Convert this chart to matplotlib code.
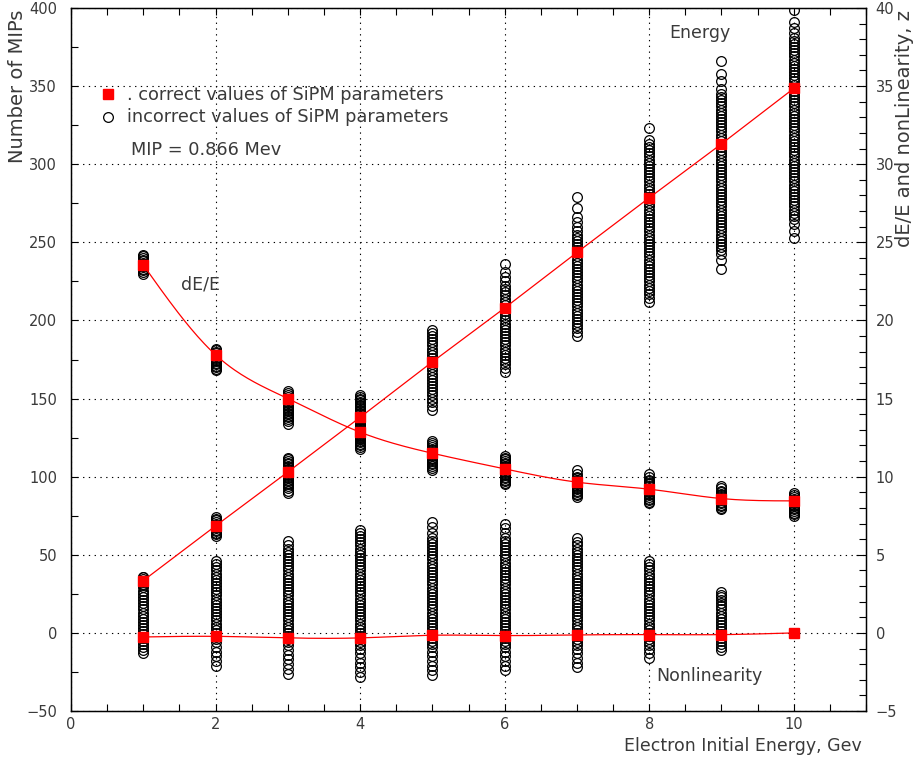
import numpy as np
import matplotlib
matplotlib.use("Agg")
import matplotlib.pyplot as plt
from matplotlib.ticker import MultipleLocator

# electron energies, GeV
energies = [1, 2, 3, 4, 5, 6, 7, 8, 9, 10]

# correct SiPM parameters (red squares)
energy_ok = [33.5, 68.5, 103, 138, 173.5, 208, 243.5, 278.5, 313, 348.5]   # MIPs
dee_ok = [23.55, 17.8, 15.0, 12.85, 11.5, 10.5, 9.65, 9.2, 8.6, 8.45]       # dE/E, %
nonlin_ok = [-0.26, -0.22, -0.32, -0.32, -0.15, -0.17, -0.13, -0.11, -0.11, 0.0]  # z, %

# incorrect SiPM parameters (open circles), one list per energy
energy_bad = [
    [29.5, 30.5, 31.5, 32.5, 33.5, 34.5, 35.5, 36],
    [62, 63, 64, 65, 66, 67, 68, 69, 70, 71, 72, 73, 74],
    [89.5, 91, 92.5, 94, 95, 96, 97, 98, 99, 100, 101, 102, 103, 104, 105, 106, 107, 108, 109,
     110, 111, 112],
    [124, 125.5, 127, 128, 129, 130, 131, 132, 133, 134, 135, 136, 137, 138, 139, 140, 141, 142,
     143, 144, 145, 146, 147, 148, 149, 150, 151, 152],
    [143, 145.5, 148, 150, 152, 154, 156, 158, 160, 162, 164, 166, 168, 170, 172, 174, 176, 178,
     180, 182, 184, 186, 188, 190, 192, 194],
    [167, 169.5, 172, 174, 176, 178, 180, 182, 184, 186, 188, 190, 192, 194, 196, 198, 200, 202,
     204, 206, 208, 210, 212, 214, 216, 218, 220, 222, 225, 228, 231, 236],
    [190, 192.5, 195, 197, 199, 201, 203, 205, 207, 209, 211, 213, 215, 217, 219, 221, 223, 225,
     227, 229, 231, 233, 235, 237, 239, 241, 243, 245, 247, 249, 251, 253, 255, 257, 260, 263,
     266, 272, 279],
    [212, 214.5, 217, 219, 221, 223, 225, 227, 229, 231, 233, 235, 237, 239, 241, 243, 245, 247,
     249, 251, 253, 255, 257, 259, 261, 263, 265, 267, 269, 271, 273, 275, 277, 279, 281, 283,
     285, 287, 289, 291, 293, 295, 297, 299, 301, 303, 305, 307, 309, 311, 313, 315.5, 323],
    [233, 238.5, 242.5, 245, 247, 249, 251, 253, 255, 257, 259, 261, 263, 265, 267, 269, 271, 273,
     275, 277, 279, 281, 283, 285, 287, 289, 291, 293, 295, 297, 299, 301, 303, 305, 307, 309,
     311, 313, 315, 317, 319, 321, 323, 325, 327, 329, 331, 333, 335, 337, 339, 341, 343, 345,
     348, 353, 358, 366],
    [253, 257.5, 262, 265, 267, 269, 271, 273, 275, 277, 279, 281, 283, 285, 287, 289, 291, 293,
     295, 297, 299, 301, 303, 305, 307, 309, 311, 313, 315, 317, 319, 321, 323, 325, 327, 329,
     331, 333, 335, 337, 339, 341, 343, 345, 347, 349, 351, 353, 355, 357, 359, 361, 363, 365,
     367, 369, 371, 373, 375, 377, 379, 381, 384, 387, 391, 399],
]
dee_bad = [
    [23.0, 23.1, 23.2, 23.3, 23.4, 23.5, 23.6, 23.7, 23.8, 23.9, 24.0, 24.1, 24.2],
    [16.8, 16.9, 17.0, 17.1, 17.2, 17.3, 17.4, 17.5, 17.6, 17.7, 17.8, 17.9, 18.0, 18.1, 18.2],
    [13.4, 13.55, 13.7, 13.8, 13.9, 14.0, 14.1, 14.2, 14.3, 14.4, 14.5, 14.6, 14.7, 14.8, 14.9,
     15.0, 15.1, 15.2, 15.35, 15.5],
    [11.8, 11.9, 12.0, 12.1, 12.2, 12.3, 12.4, 12.5, 12.6, 12.7, 12.8, 12.9, 13.0, 13.1, 13.2,
     13.3, 13.4, 13.5, 13.6, 13.7, 13.8],
    [10.4, 10.55, 10.7, 10.8, 10.9, 11.0, 11.1, 11.2, 11.3, 11.4, 11.5, 11.6, 11.7, 11.8, 11.9,
     12.0, 12.15, 12.3],
    [9.5, 9.6, 9.7, 9.8, 9.9, 10.0, 10.1, 10.2, 10.3, 10.4, 10.5, 10.6, 10.7, 10.8, 10.9, 11.0,
     11.1, 11.2, 11.3],
    [8.7, 8.8, 8.9, 9.0, 9.1, 9.2, 9.3, 9.4, 9.5, 9.6, 9.7, 9.8, 9.9, 10.0, 10.15, 10.4],
    [8.3, 8.4, 8.5, 8.6, 8.7, 8.8, 8.9, 9.0, 9.1, 9.2, 9.3, 9.4, 9.5, 9.6, 9.7, 9.8, 9.95, 10.2],
    [7.9, 8.0, 8.1, 8.2, 8.3, 8.4, 8.5, 8.6, 8.7, 8.8, 8.9, 9.0, 9.1, 9.25, 9.4],
    [7.5, 7.6, 7.7, 7.8, 7.9, 8.0, 8.1, 8.2, 8.3, 8.4, 8.5, 8.6, 8.7, 8.8, 8.95],
]
nonlin_bad = [
    [-1.3, -1.1, -0.9, -0.7, -0.5, -0.3, -0.1, 0.1, 0.3, 0.5, 0.7, 0.9, 1.1, 1.3, 1.5, 1.7, 1.9,
     2.1, 2.3, 2.5, 2.7],
    [-2.1, -1.8, -1.5, -1.2, -0.9, -0.6, -0.4, -0.2, 0.0, 0.2, 0.4, 0.6, 0.8, 1.0, 1.2, 1.4, 1.6,
     1.8, 2.0, 2.2, 2.4, 2.6, 2.8, 3.0, 3.2, 3.4, 3.6, 3.8, 4.0, 4.2, 4.4, 4.6],
    [-2.6, -2.3, -2.0, -1.7, -1.4, -1.1, -0.8, -0.6, -0.4, -0.2, 0.0, 0.2, 0.4, 0.6, 0.8, 1.0,
     1.2, 1.4, 1.6, 1.8, 2.0, 2.2, 2.4, 2.6, 2.8, 3.0, 3.2, 3.4, 3.6, 3.8, 4.0, 4.2, 4.4, 4.6,
     4.8, 5.0, 5.2, 5.4, 5.6, 5.9],
    [-2.8, -2.5, -2.2, -1.9, -1.6, -1.3, -1.0, -0.8, -0.6, -0.4, -0.2, 0.0, 0.2, 0.4, 0.6, 0.8,
     1.0, 1.2, 1.4, 1.6, 1.8, 2.0, 2.2, 2.4, 2.6, 2.8, 3.0, 3.2, 3.4, 3.6, 3.8, 4.0, 4.2, 4.4,
     4.6, 4.8, 5.0, 5.2, 5.4, 5.6, 5.8, 6.0, 6.2, 6.4, 6.6],
    [-2.7, -2.4, -2.1, -1.8, -1.5, -1.2, -0.9, -0.7, -0.5, -0.3, -0.1, 0.1, 0.3, 0.5, 0.7, 0.9,
     1.1, 1.3, 1.5, 1.7, 1.9, 2.1, 2.3, 2.5, 2.7, 2.9, 3.1, 3.3, 3.5, 3.7, 3.9, 4.1, 4.3, 4.5,
     4.7, 4.9, 5.1, 5.3, 5.5, 5.7, 5.9, 6.1, 6.4, 6.8, 7.1],
    [-2.4, -2.1, -1.8, -1.5, -1.2, -0.9, -0.7, -0.5, -0.3, -0.1, 0.1, 0.3, 0.5, 0.7, 0.9, 1.1,
     1.3, 1.5, 1.7, 1.9, 2.1, 2.3, 2.5, 2.7, 2.9, 3.1, 3.3, 3.5, 3.7, 3.9, 4.1, 4.3, 4.5, 4.7,
     4.9, 5.1, 5.3, 5.5, 5.7, 5.9, 6.1, 6.4, 6.7, 7.0],
    [-2.2, -1.9, -1.6, -1.3, -1.0, -0.8, -0.6, -0.4, -0.2, 0.0, 0.2, 0.4, 0.6, 0.8, 1.0, 1.2,
     1.4, 1.6, 1.8, 2.0, 2.2, 2.4, 2.6, 2.8, 3.0, 3.2, 3.4, 3.6, 3.8, 4.0, 4.2, 4.4, 4.6, 4.8,
     5.0, 5.2, 5.4, 5.6, 5.8, 6.1],
    [-1.6, -1.3, -1.0, -0.8, -0.6, -0.4, -0.2, 0.0, 0.2, 0.4, 0.6, 0.8, 1.0, 1.2, 1.4, 1.6, 1.8,
     2.0, 2.2, 2.4, 2.6, 2.8, 3.0, 3.2, 3.4, 3.6, 3.8, 4.0, 4.2, 4.4, 4.6],
    [-1.1, -0.9, -0.7, -0.5, -0.3, -0.1, 0.1, 0.3, 0.5, 0.7, 0.9, 1.1, 1.3, 1.5, 1.7, 1.9, 2.1,
     2.3, 2.45, 2.6],
    [],
]

RSCALE = 10.0  # right axis (%) = left axis (MIPs) / 10
TXT = '#3a3a3a'


def smooth(xs, ys, n=300):
    # natural cubic spline through the points, like the paw/root smooth curve
    xs = np.asarray(xs, float)
    ys = np.asarray(ys, float)
    h = np.diff(xs)
    m = len(xs)
    A = np.zeros((m, m))
    b = np.zeros(m)
    A[0, 0] = A[-1, -1] = 1
    for i in range(1, m - 1):
        A[i, i - 1] = h[i - 1]
        A[i, i] = 2 * (h[i - 1] + h[i])
        A[i, i + 1] = h[i]
        b[i] = 6 * ((ys[i + 1] - ys[i]) / h[i] - (ys[i] - ys[i - 1]) / h[i - 1])
    M = np.linalg.solve(A, b)
    xx = np.linspace(xs[0], xs[-1], n)
    k = np.clip(np.searchsorted(xs, xx) - 1, 0, m - 2)
    t0 = xs[k + 1] - xx
    t1 = xx - xs[k]
    hk = h[k]
    yy = (M[k] * t0 ** 3 / (6 * hk) + M[k + 1] * t1 ** 3 / (6 * hk)
          + (ys[k] / hk - M[k] * hk / 6) * t0 + (ys[k + 1] / hk - M[k + 1] * hk / 6) * t1)
    return xx, yy


fig = plt.figure(figsize=(9.2, 7.62), dpi=100)
ax = fig.add_axes([0.0772, 0.0669, 0.8641, 0.9226])
ax.set_xlim(0, 11)
ax.set_ylim(-50, 400)

circ = dict(ls='none', marker='o', ms=7.0, mfc='none', mec='black', mew=0.9, zorder=2)
for e, vals in zip(energies, energy_bad):
    ax.plot([e] * len(vals), vals, **circ)
for e, vals in zip(energies, dee_bad):
    ax.plot([e] * len(vals), np.array(vals) * RSCALE, **circ)
for e, vals in zip(energies, nonlin_bad):
    if vals:
        ax.plot([e] * len(vals), np.array(vals) * RSCALE, **circ)

# red lines
ax.plot(energies, energy_ok, color='red', lw=0.9, zorder=3)
xx, yy = smooth(energies, dee_ok)
ax.plot(xx, yy * RSCALE, color='red', lw=0.9, zorder=3)
xx, yy = smooth(energies, nonlin_ok)
ax.plot(xx, yy * RSCALE, color='red', lw=0.9, zorder=3)

sq = dict(ls='none', marker='s', ms=7.4, color='red', mec='red', zorder=4)
ax.plot(energies, energy_ok, **sq)
ax.plot(energies, np.array(dee_ok) * RSCALE, **sq)
ax.plot(energies, np.array(nonlin_ok) * RSCALE, **sq)

# grid and ticks
ax.set_xticks([0, 2, 4, 6, 8, 10])
ax.xaxis.set_minor_locator(MultipleLocator(0.5))
ax.yaxis.set_major_locator(MultipleLocator(50))
ax.yaxis.set_minor_locator(MultipleLocator(25))
ax.grid(True, which='major', color='black', lw=0.8, ls=(0, (1.2, 4)))
ax.tick_params(which='both', direction='in', top=True, right=False, length=5,
               width=0.8, labelsize=10.5, labelcolor=TXT)
ax.tick_params(axis='x', pad=4)
ax.tick_params(axis='y', pad=10)
for s in ax.spines.values():
    s.set_linewidth(1.0)

ax2 = ax.twinx()
ax2.set_ylim(-5, 40)
ax2.yaxis.set_major_locator(MultipleLocator(5))
ax2.yaxis.set_minor_locator(MultipleLocator(1))
ax2.tick_params(which='both', direction='in', length=5, width=0.8,
                labelsize=10.5, labelcolor=TXT, pad=7)
ax2.tick_params(which='major', length=7)

# legend drawn by hand, like the original
ax.plot([0.51], [345], **sq)
ax.plot([0.51], [330], **circ)
ax.text(0.78, 344, '. correct values of SiPM parameters', fontsize=12.8, color=TXT, va='center')
ax.text(0.78, 330, 'incorrect values of SiPM parameters', fontsize=12.8, color=TXT, va='center')
ax.text(0.83, 309, 'MIP = 0.866 Mev', fontsize=12.8, color=TXT, va='center')

ax.text(8.28, 384, 'Energy', fontsize=12.5, color=TXT, va='center')
ax.text(1.52, 223, 'dE/E', fontsize=12.5, color=TXT, va='center')
ax.text(8.1, -27.6, 'Nonlinearity', fontsize=12.5, color=TXT, va='center')

fig.text(862 / 920, 1 - 746 / 762, 'Electron Initial Energy, Gev', fontsize=12.5,
         color=TXT, ha='right', va='center')
fig.text(18 / 920, 1 - 10 / 762, 'Number of MIPs', fontsize=14, color=TXT,
         rotation=90, ha='center', va='top')
fig.text(905 / 920, 1 - 10 / 762, 'dE/E and nonLinearity, z', fontsize=14, color=TXT,
         rotation=90, ha='center', va='top')

fig.savefig('out.png', dpi=100)
